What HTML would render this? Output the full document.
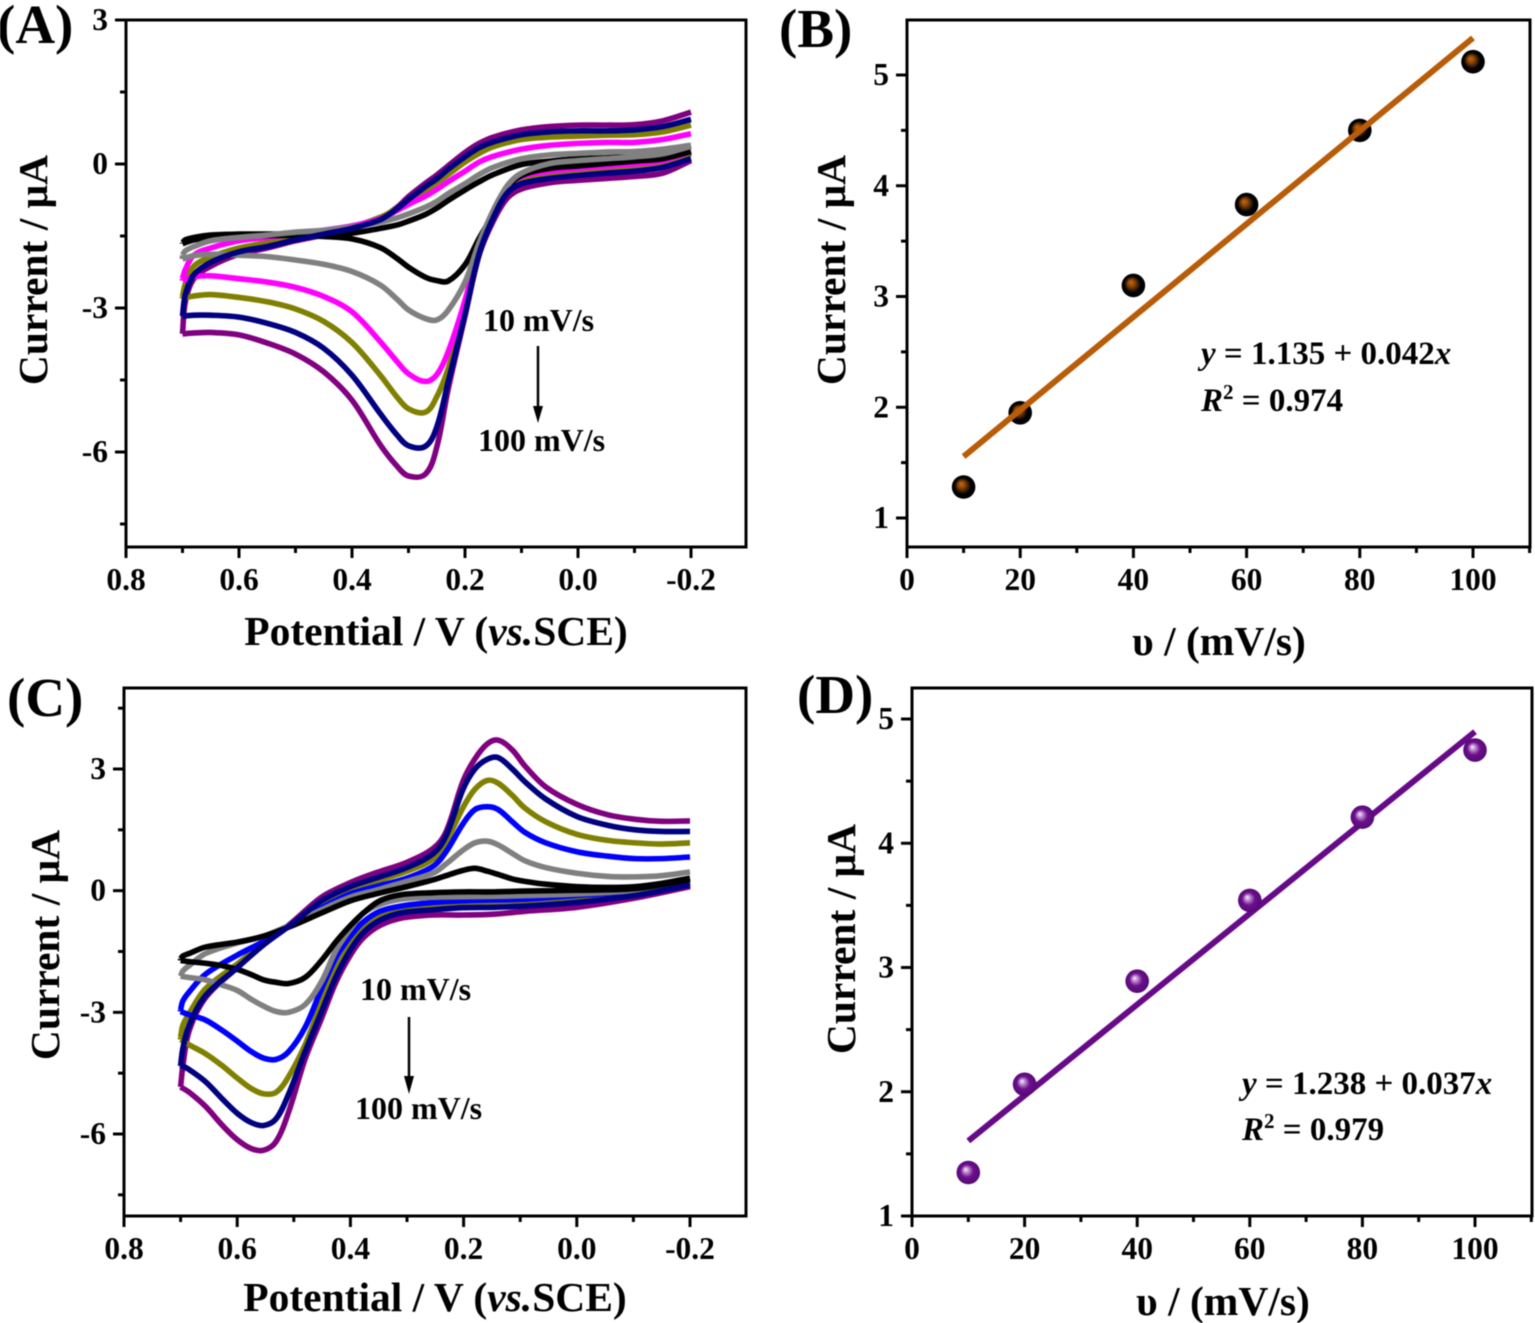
<!DOCTYPE html>
<html lang="en">
<head>
<meta charset="utf-8">
<title>Cyclic voltammetry panels</title>
<style>
html,body{margin:0;padding:0;background:#fff;}
svg{display:block;filter:blur(0.4px);}
text{font-family:"Liberation Serif",serif;font-weight:bold;fill:#000;}
</style>
</head>
<body>
<svg id="figure" xmlns="http://www.w3.org/2000/svg" width="1535" height="1323" viewBox="0 0 1535 1323">
  <defs>
    <radialGradient id="orange-sphere" cx="50%" cy="50%" r="50%" fx="38%" fy="36%">
      <stop offset="0" stop-color="#c8680f"/>
      <stop offset="0.3" stop-color="#8a4508"/>
      <stop offset="0.7" stop-color="#000"/>
      <stop offset="1" stop-color="#000"/>
    </radialGradient>
    <radialGradient id="purple-sphere" cx="50%" cy="50%" r="50%" fx="38%" fy="36%">
      <stop offset="0" stop-color="#f8f2fa"/>
      <stop offset="0.22" stop-color="#c090d2"/>
      <stop offset="0.55" stop-color="#6c0f8c"/>
      <stop offset="1" stop-color="#560a74"/>
    </radialGradient>
  </defs>

  <g id="layer-a"></g>
  <g id="layer-b"></g>
  <g id="layer-c"></g>
  <g id="layer-d"></g>

  <text x="-3" y="43" font-size="55">(A)</text>
  <text x="779" y="47" font-size="55">(B)</text>
  <text x="7" y="716" font-size="55">(C)</text>
  <text x="797" y="713" font-size="55">(D)</text>

  <text transform="translate(47,270) rotate(-90)" text-anchor="middle" font-size="41.5">Current / μA</text>
  <text transform="translate(845,270) rotate(-90)" text-anchor="middle" font-size="41.5">Current / μA</text>
  <text transform="translate(59,945) rotate(-90)" text-anchor="middle" font-size="41.5">Current / μA</text>
  <text transform="translate(855,939) rotate(-90)" text-anchor="middle" font-size="41.5">Current / μA</text>

  <text x="436" y="645" text-anchor="middle" font-size="41.5">Potential / V (<tspan font-style="italic">vs.</tspan>SCE)</text>
  <text x="1219" y="655" text-anchor="middle" font-size="41.5">υ / (mV/s)</text>
  <text x="435" y="1311" text-anchor="middle" font-size="41.5">Potential / V (<tspan font-style="italic">vs.</tspan>SCE)</text>
  <text x="1223" y="1315" text-anchor="middle" font-size="41.5">υ / (mV/s)</text>

  <g>
    <text x="483" y="331" font-size="32">10 mV/s</text>
    <line x1="538" y1="346" x2="538" y2="410" stroke="#000" stroke-width="2.5"/>
    <polygon points="533,406 543,406 538,423" fill="#000"/>
    <text x="478" y="451" font-size="32">100 mV/s</text>
  </g>
  <g>
    <text x="360" y="1000" font-size="32">10 mV/s</text>
    <line x1="409" y1="1017" x2="409" y2="1080" stroke="#000" stroke-width="2.5"/>
    <polygon points="404,1076 414,1076 409,1094" fill="#000"/>
    <text x="355" y="1119" font-size="32">100 mV/s</text>
  </g>

  <text x="1201" y="364" font-size="33"><tspan font-style="italic">y</tspan> = 1.135 + 0.042<tspan font-style="italic">x</tspan></text>
  <text x="1201" y="411" font-size="33"><tspan font-style="italic">R</tspan><tspan font-size="21" dy="-12">2</tspan><tspan dy="12"> = 0.974</tspan></text>
  <text x="1242" y="1094" font-size="33"><tspan font-style="italic">y</tspan> = 1.238 + 0.037<tspan font-style="italic">x</tspan></text>
  <text x="1242" y="1140" font-size="33"><tspan font-style="italic">R</tspan><tspan font-size="21" dy="-12">2</tspan><tspan dy="12"> = 0.979</tspan></text>
</svg>

<script>
// ---------- Panel A: potentials (V) and currents (µA) ----------
const potentialUpperA = [0.7,0.695,0.68,0.65,0.6,0.55,0.5,0.45,0.4,0.35,0.32,0.3,0.27,0.25,0.23,0.2,0.175,0.15,0.1,0.05,0,-0.05,-0.1,-0.15,-0.2];
const potentialLowerA = [0.7,0.68,0.65,0.6,0.55,0.5,0.45,0.4,0.35,0.32,0.3,0.27,0.25,0.23,0.2,0.175,0.15,0.125,0.1,0.05,0,-0.05,-0.1,-0.15,-0.2];

const upperA10 = [-1.64,-1.58,-1.53,-1.48,-1.46,-1.46,-1.46,-1.46,-1.44,-1.34,-1.27,-1.19,-1.05,-0.92,-0.76,-0.54,-0.37,-0.22,-0.01,0.06,0.11,0.13,0.16,0.22,0.37];
const upperA20 = [-1.90,-1.81,-1.72,-1.60,-1.53,-1.48,-1.42,-1.38,-1.31,-1.21,-1.12,-1.04,-0.90,-0.78,-0.62,-0.41,-0.22,-0.07,0.11,0.19,0.22,0.25,0.26,0.31,0.39];
const upperA40 = [-2.39,-2.20,-1.90,-1.75,-1.60,-1.53,-1.46,-1.38,-1.29,-1.14,-0.97,-0.84,-0.67,-0.53,-0.37,-0.15,0.04,0.16,0.31,0.39,0.43,0.45,0.45,0.51,0.63];
const upperA60 = [-2.76,-2.50,-2.13,-1.94,-1.75,-1.64,-1.53,-1.42,-1.31,-1.11,-0.93,-0.78,-0.55,-0.39,-0.22,0.04,0.22,0.36,0.51,0.56,0.58,0.60,0.61,0.67,0.81];
const upperA80 = [-3.17,-2.72,-2.31,-2.05,-1.83,-1.72,-1.58,-1.46,-1.34,-1.16,-0.93,-0.74,-0.47,-0.31,-0.11,0.15,0.34,0.46,0.61,0.67,0.69,0.69,0.71,0.78,0.93];
const upperA100 = [-3.54,-2.87,-2.39,-2.13,-1.88,-1.75,-1.60,-1.48,-1.34,-1.13,-0.90,-0.68,-0.40,-0.23,-0.04,0.24,0.43,0.56,0.71,0.78,0.81,0.81,0.82,0.90,1.08];

const lowerA10 = [-1.66,-1.58,-1.53,-1.49,-1.49,-1.49,-1.51,-1.56,-1.74,-1.97,-2.15,-2.36,-2.43,-2.44,-2.10,-1.55,-1.04,-0.49,-0.24,-0.09,-0.04,0.01,0.06,0.11,0.26];
const lowerA20 = [-1.98,-1.91,-1.88,-1.90,-1.93,-2.00,-2.09,-2.24,-2.52,-2.82,-3.04,-3.22,-3.25,-3.05,-2.46,-1.64,-0.97,-0.45,-0.19,0.01,0.07,0.11,0.15,0.21,0.37];
const lowerA40 = [-2.43,-2.35,-2.33,-2.39,-2.46,-2.57,-2.76,-3.08,-3.70,-4.12,-4.37,-4.53,-4.39,-3.92,-2.84,-1.72,-0.97,-0.49,-0.26,-0.15,-0.09,-0.04,0,0.07,0.26];
const lowerA60 = [-2.80,-2.75,-2.72,-2.78,-2.87,-3.02,-3.28,-3.72,-4.40,-4.86,-5.10,-5.17,-4.85,-4.27,-3.06,-1.79,-1.01,-0.52,-0.34,-0.22,-0.16,-0.11,-0.07,0,0.21];
const lowerA80 = [-3.17,-3.15,-3.15,-3.19,-3.32,-3.51,-3.84,-4.40,-5.20,-5.65,-5.87,-5.88,-5.48,-4.55,-3.13,-1.87,-1.12,-0.60,-0.41,-0.30,-0.24,-0.19,-0.15,-0.07,0.11];
const lowerA100 = [-3.54,-3.52,-3.51,-3.56,-3.73,-3.96,-4.33,-4.92,-5.85,-6.30,-6.50,-6.46,-5.90,-4.70,-3.17,-1.90,-1.19,-0.71,-0.52,-0.39,-0.34,-0.30,-0.26,-0.19,0.07];

// ---------- Panel C: potentials (V) and currents (µA) ----------
const potentialUpperC = [0.7,0.696,0.685,0.656,0.6,0.553,0.502,0.451,0.4,0.355,0.3,0.253,0.231,0.201,0.18,0.158,0.139,0.114,0.092,0.055,0,-0.055,-0.103,-0.15,-0.2];
const potentialLowerC = [0.7,0.685,0.656,0.626,0.6,0.575,0.553,0.531,0.509,0.48,0.451,0.425,0.4,0.377,0.348,0.311,0.253,0.201,0.147,0.092,0,-0.103,-0.2];

const upperC10 = [-1.68,-1.61,-1.55,-1.39,-1.27,-1.12,-0.86,-0.55,-0.25,-0.08,0.10,0.27,0.37,0.50,0.55,0.48,0.40,0.29,0.23,0.16,0.10,0.08,0.10,0.18,0.31];
const upperC20 = [-2.11,-1.98,-1.85,-1.55,-1.29,-1.12,-0.82,-0.47,-0.16,0.01,0.23,0.44,0.66,1.00,1.18,1.22,1.13,0.92,0.74,0.57,0.43,0.35,0.34,0.37,0.46];
const upperC40 = [-2.94,-2.72,-2.50,-2.06,-1.59,-1.25,-0.81,-0.42,-0.08,0.10,0.31,0.61,0.96,1.65,2.00,2.07,2.00,1.70,1.44,1.18,0.96,0.85,0.79,0.79,0.83];
const upperC60 = [-3.62,-3.32,-3.03,-2.42,-1.81,-1.29,-0.81,-0.34,0.01,0.23,0.48,0.79,1.20,2.05,2.50,2.72,2.65,2.35,2.04,1.70,1.39,1.24,1.18,1.15,1.18];
const upperC80 = [-4.32,-3.89,-3.32,-2.59,-1.90,-1.33,-0.81,-0.25,0.10,0.31,0.57,0.92,1.35,2.50,3.00,3.24,3.28,3.00,2.69,2.26,1.83,1.61,1.50,1.46,1.46];
const upperC100 = [-4.84,-4.32,-3.46,-2.64,-1.90,-1.33,-0.77,-0.16,0.20,0.44,0.70,1.05,1.45,2.70,3.25,3.62,3.71,3.47,3.08,2.56,2.13,1.87,1.76,1.71,1.72];

const lowerC10 = [-1.72,-1.75,-1.79,-1.85,-1.94,-2.07,-2.20,-2.26,-2.29,-2.14,-1.72,-1.25,-0.86,-0.55,-0.25,-0.10,-0.05,-0.03,-0.03,-0.01,0.01,0.05,0.27];
const lowerC20 = [-2.11,-2.14,-2.20,-2.33,-2.46,-2.68,-2.85,-2.98,-3.00,-2.81,-2.24,-1.46,-0.94,-0.55,-0.34,-0.21,-0.16,-0.15,-0.14,-0.12,-0.08,0.01,0.23];
const lowerC40 = [-2.98,-3.06,-3.19,-3.45,-3.71,-3.97,-4.13,-4.16,-3.97,-3.37,-2.42,-1.64,-1.12,-0.77,-0.51,-0.38,-0.29,-0.25,-0.23,-0.21,-0.12,-0.02,0.20];
const lowerC60 = [-3.67,-3.80,-4.02,-4.32,-4.62,-4.88,-5.01,-4.97,-4.58,-3.80,-2.76,-1.94,-1.33,-0.90,-0.60,-0.47,-0.41,-0.36,-0.34,-0.29,-0.21,-0.06,0.20];
const lowerC80 = [-4.30,-4.41,-4.71,-5.14,-5.49,-5.72,-5.79,-5.62,-5.01,-3.97,-2.98,-2.11,-1.46,-1.03,-0.73,-0.55,-0.47,-0.42,-0.41,-0.38,-0.29,-0.12,0.14];
const lowerC100 = [-4.84,-4.97,-5.32,-5.79,-6.14,-6.36,-6.40,-6.18,-5.45,-4.15,-3.15,-2.24,-1.59,-1.16,-0.86,-0.68,-0.60,-0.60,-0.58,-0.51,-0.41,-0.18,0.10];

// ---------- Panels B and D: scan-rate plots ----------
const scanRates = [10,20,40,60,80,100];
const peakCurrentB = [1.28,1.95,3.10,3.83,4.50,5.12];
const peakCurrentD = [1.35,2.06,2.89,3.54,4.21,4.75];
const fitInterceptB = 1.135;
const fitSlopeB = 0.042;
const fitInterceptD = 1.238;
const fitSlopeD = 0.0366;

// ---------- Tick values ----------
const cvXMajor = [0.8,0.6,0.4,0.2,0,-0.2];
const cvXMinor = [0.7,0.5,0.3,0.1,-0.1];
const cvXLabels = ['0.8','0.6','0.4','0.2','0.0','-0.2'];
const cvYMajor = [3,0,-3,-6];
const cvYMajorLabels = ['3','0','-3','-6'];
const cvYMinorA = [1.5,-1.5,-4.5,-7.5];
const cvYMinorC = [4.5,1.5,-1.5,-4.5,-7.5];
const rateXMajor = [0,20,40,60,80,100];
const rateXMinor = [10,30,50,70,90,110];
const rateXLabels = ['0','20','40','60','80','100'];
const rateYMajor = [1,2,3,4,5];
const rateYLabels = ['1','2','3','4','5'];
const rateYMinor = [1.5,2.5,3.5,4.5];

const NS = 'http://www.w3.org/2000/svg';

function linearScale(d0, d1, r0, r1) {
  return function (v) { return r0 + (v - d0) * (r1 - r0) / (d1 - d0); };
}

function smoothPath(pts) {
  let d = 'M' + pts[0][0].toFixed(2) + ' ' + pts[0][1].toFixed(2);
  function dist(a, b) { return Math.hypot(a[0] - b[0], a[1] - b[1]) || 1e-6; }
  function tangent(i) {
    const p = pts[Math.max(i - 1, 0)], n = pts[Math.min(i + 1, pts.length - 1)];
    const l = dist(p, n);
    return [(n[0] - p[0]) / l, (n[1] - p[1]) / l];
  }
  for (let i = 0; i < pts.length - 1; i++) {
    const a = pts[i], b = pts[i + 1], len = dist(a, b) / 3;
    const ta = tangent(i), tb = tangent(i + 1);
    d += 'C' + (a[0] + ta[0] * len).toFixed(2) + ' ' + (a[1] + ta[1] * len).toFixed(2) + ' ' +
         (b[0] - tb[0] * len).toFixed(2) + ' ' + (b[1] - tb[1] * len).toFixed(2) + ' ' +
         b[0].toFixed(2) + ' ' + b[1].toFixed(2);
  }
  return d;
}

function drawAxes(layer, key, box, x, y, ticks) {
  const frame = document.createElementNS(NS, 'rect');
  
  
  frame.setAttribute('x', box.left);
  frame.setAttribute('y', box.top);
  frame.setAttribute('width', box.right - box.left);
  frame.setAttribute('height', box.bottom - box.top);
  frame.setAttribute('fill', 'none');
  frame.setAttribute('stroke', '#000');
  frame.setAttribute('stroke-width', '3');
  layer.appendChild(frame);

  function tick(x1, y1, x2, y2, nm) {
    const t = document.createElementNS(NS, 'line');
    
    
    t.setAttribute('x1', x1);
    t.setAttribute('y1', y1);
    t.setAttribute('x2', x2);
    t.setAttribute('y2', y2);
    t.setAttribute('stroke', '#000');
    t.setAttribute('stroke-width', '3');
    layer.appendChild(t);
  }
  function label(px, py, anchor, str, nm) {
    const t = document.createElementNS(NS, 'text');
    
    
    t.setAttribute('x', px);
    t.setAttribute('y', py);
    t.setAttribute('text-anchor', anchor);
    t.setAttribute('font-size', '31.5');
    t.textContent = str;
    layer.appendChild(t);
  }

  ticks.xMajor.forEach(function (v, i) {
    tick(x(v), box.bottom, x(v), box.bottom + 11, 'x-major-tick-' + key);
    label(x(v), box.bottom + 43, 'middle', ticks.xLabels[i], 'x-tick-label-' + key);
  });
  ticks.xMinor.forEach(function (v) {
    tick(x(v), box.bottom, x(v), box.bottom + 6, 'x-minor-tick-' + key);
  });
  ticks.yMajor.forEach(function (v, i) {
    tick(box.left, y(v), box.left - 11, y(v), 'y-major-tick-' + key);
    label(box.left - 18, y(v) + 10, 'end', ticks.yLabels[i], 'y-tick-label-' + key);
  });
  ticks.yMinor.forEach(function (v) {
    tick(box.left, y(v), box.left - 6, y(v), 'y-minor-tick-' + key);
  });
}

function drawCV(layer, key, series, potUpper, potLower, x, y) {
  series.forEach(function (s) {
    const up = potUpper.map(function (p, i) { return [x(p), y(s.upper[i])]; });
    const lo = potLower.map(function (p, i) { return [x(p), y(s.lower[i])]; });
    const curve = document.createElementNS(NS, 'path');
    
    
    curve.setAttribute('d', smoothPath(up) + smoothPath(lo) + 'M' + up[0][0].toFixed(2) + ' ' + up[0][1].toFixed(2) + 'L' + lo[0][0].toFixed(2) + ' ' + lo[0][1].toFixed(2));
    curve.setAttribute('fill', 'none');
    curve.setAttribute('stroke', s.color);
    curve.setAttribute('stroke-width', '5.6');
    curve.setAttribute('stroke-linejoin', 'round');
    layer.appendChild(curve);
  });
}

function drawFit(layer, key, rates, values, intercept, slope, x, y, lineColor, fillId, order) {
  const first = rates[0], last = rates[rates.length - 1];
  function fitLine() {
    const line = document.createElementNS(NS, 'line');
    
    
    line.setAttribute('x1', x(first));
    line.setAttribute('y1', y(intercept + slope * first));
    line.setAttribute('x2', x(last));
    line.setAttribute('y2', y(intercept + slope * last));
    line.setAttribute('stroke', lineColor);
    line.setAttribute('stroke-width', '6');
    layer.appendChild(line);
  }
  function points() {
    rates.forEach(function (r, i) {
      const c = document.createElementNS(NS, 'circle');
      
      
      c.setAttribute('cx', x(r));
      c.setAttribute('cy', y(values[i]));
      c.setAttribute('r', '11.8');
      c.setAttribute('fill', 'url(#' + fillId + ')');
      layer.appendChild(c);
    });
  }
  if (order === 'line-top') { points(); fitLine(); } else { fitLine(); points(); }
}

// Panel A
const boxA = {left:126, right:746, top:20, bottom:547};
const xA = linearScale(0.8, -0.2, 126, 691);
const yA = linearScale(3, -6, 20, 452);
const seriesA = [
  {rate:100, color:'#800080', upper:upperA100, lower:lowerA100},
  {rate:60, color:'#808000', upper:upperA60, lower:lowerA60},
  {rate:40, color:'#ff00ff', upper:upperA40, lower:lowerA40},
  {rate:10, color:'#000000', upper:upperA10, lower:lowerA10},
  {rate:20, color:'#808080', upper:upperA20, lower:lowerA20},
  {rate:80, color:'#000080', upper:upperA80, lower:lowerA80}
];
const layerA = document.getElementById('layer-a');
drawAxes(layerA, 'a', boxA, xA, yA, {xMajor:cvXMajor, xMinor:cvXMinor, xLabels:cvXLabels, yMajor:cvYMajor, yLabels:cvYMajorLabels, yMinor:cvYMinorA});
drawCV(layerA, 'a', seriesA, potentialUpperA, potentialLowerA, xA, yA);

// Panel B
const boxB = {left:907, right:1530, top:20, bottom:547};
const xB = linearScale(0, 100, 907, 1473);
const yB = linearScale(1, 5, 518, 75);
const layerB = document.getElementById('layer-b');
drawAxes(layerB, 'b', boxB, xB, yB, {xMajor:rateXMajor, xMinor:rateXMinor, xLabels:rateXLabels, yMajor:rateYMajor, yLabels:rateYLabels, yMinor:rateYMinor});
drawFit(layerB, 'b', scanRates, peakCurrentB, fitInterceptB, fitSlopeB, xB, yB, '#b85c08', 'orange-sphere', 'line-top');

// Panel C
const boxC = {left:124, right:746, top:688, bottom:1216};
const xC = linearScale(0.8, -0.2, 124, 690);
const yC = linearScale(3, -6, 769, 1134);
const seriesC = [
  {rate:100, color:'#800080', upper:upperC100, lower:lowerC100},
  {rate:60, color:'#808000', upper:upperC60, lower:lowerC60},
  {rate:40, color:'#0000ff', upper:upperC40, lower:lowerC40},
  {rate:20, color:'#808080', upper:upperC20, lower:lowerC20},
  {rate:10, color:'#000000', upper:upperC10, lower:lowerC10},
  {rate:80, color:'#000080', upper:upperC80, lower:lowerC80}
];
const layerC = document.getElementById('layer-c');
drawAxes(layerC, 'c', boxC, xC, yC, {xMajor:cvXMajor, xMinor:cvXMinor, xLabels:cvXLabels, yMajor:cvYMajor, yLabels:cvYMajorLabels, yMinor:cvYMinorC});
drawCV(layerC, 'c', seriesC, potentialUpperC, potentialLowerC, xC, yC);

// Panel D
const boxD = {left:912, right:1532, top:688, bottom:1216};
const xD = linearScale(0, 100, 912, 1475);
const yD = linearScale(1, 5, 1216, 719);
const layerD = document.getElementById('layer-d');
drawAxes(layerD, 'd', boxD, xD, yD, {xMajor:rateXMajor, xMinor:rateXMinor, xLabels:rateXLabels, yMajor:rateYMajor, yLabels:rateYLabels, yMinor:rateYMinor});
drawFit(layerD, 'd', scanRates, peakCurrentD, fitInterceptD, fitSlopeD, xD, yD, '#660a88', 'purple-sphere', 'points-top');
</script>
</body>
</html>
